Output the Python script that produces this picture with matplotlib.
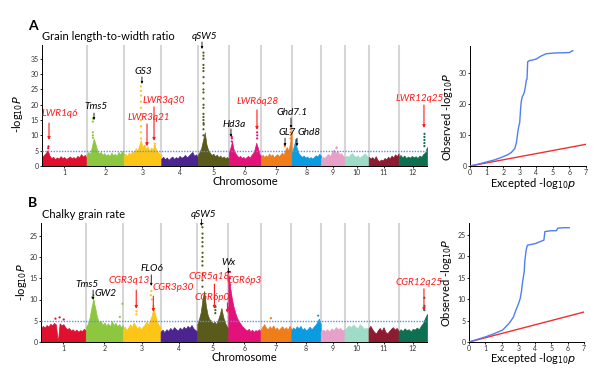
import matplotlib
matplotlib.use("Agg")
import matplotlib.pyplot as plt
import numpy as np

plt.rcParams['font.family'] = ['Lato', 'DejaVu Sans']

# ---------------- data ----------------
chrom_names = ["1", "2", "3", "4", "5", "6", "7", "8", "9", "10", "11", "12"]
chrom_len = [43.27, 35.94, 36.41, 35.50, 29.96, 31.25, 29.70, 28.44, 23.01, 23.21, 29.02, 27.53]
chrom_colors = ["#e0102f", "#8dc63f", "#fdc617", "#4b2490", "#5a5a1a", "#e2127a",
                "#ef7d1a", "#0a9be0", "#e7a0c8", "#9fdcc8", "#8e1b30", "#0e7050"]

# Panel A: grain length-to-width ratio, upper envelope of -log10P along each chromosome
envA = [
    [2.8, 3.6, 4.2, 5.2, 3.4, 2.6, 3.0, 2.2, 2.8, 2.4, 3.2, 2.6, 2.9, 2.3, 2.7, 3.1, 2.5, 2.9, 2.4, 3.3, 2.8, 3.9, 3.1, 3.6, 2.7],
    [3.8, 4.6, 3.9, 6.5, 9.0, 7.2, 5.0, 4.1, 4.6, 3.6, 4.2, 3.4, 3.9, 3.2, 4.4, 3.5, 4.0, 3.3, 4.6, 3.8, 4.9, 4.0],
    [3.4, 4.0, 3.3, 4.4, 3.8, 4.9, 4.2, 5.8, 5.0, 6.6, 8.5, 6.2, 7.0, 5.6, 6.4, 5.0, 6.0, 5.4, 7.1, 5.2, 4.6, 4.0, 3.6],
    [2.4, 3.0, 2.2, 2.8, 2.0, 2.6, 3.1, 2.3, 2.9, 2.5, 3.3, 2.7, 3.0, 3.6, 2.8, 3.4, 4.0, 4.6, 3.3, 3.8, 2.9],
    [3.8, 4.6, 6.0, 8.5, 11.0, 7.0, 5.2, 4.3, 3.6, 4.0, 3.2, 3.7, 2.9, 3.4, 2.7, 3.1, 2.6, 2.9, 2.5],
    [4.2, 6.0, 8.0, 5.4, 4.2, 3.5, 2.9, 3.3, 2.6, 3.0, 2.4, 2.9, 3.3, 2.7, 3.6, 4.2, 5.4, 7.6, 6.0, 4.0, 3.2],
    [3.0, 3.7, 2.9, 3.5, 3.0, 4.1, 3.3, 3.8, 2.9, 3.4, 3.9, 3.2, 3.7, 4.4, 3.6, 5.2, 6.2, 5.0, 7.5, 11.5],
    [4.0, 6.0, 8.2, 5.8, 4.2, 3.5, 3.0, 3.4, 2.7, 3.1, 2.5, 2.9, 2.4, 3.0, 3.5, 3.1, 4.0, 3.3],
    [2.4, 3.0, 2.6, 3.4, 3.9, 3.2, 4.6, 5.4, 4.2, 5.0, 3.8, 4.2, 3.3, 2.9],
    [2.8, 3.4, 3.0, 3.8, 4.2, 3.4, 3.0, 3.5, 2.7, 3.2, 3.7, 4.1, 3.3, 2.9],
    [3.0, 2.4, 2.9, 2.2, 3.2, 2.0, 1.6, 2.1, 1.8, 2.6, 2.2, 3.0, 2.5, 3.4, 2.8, 3.8, 3.2, 4.1],
    [3.0, 3.6, 2.8, 3.4, 2.6, 3.1, 2.7, 3.3, 2.8, 3.2, 2.6, 3.4, 3.0, 3.9, 4.4, 6.2],
]
peakA_chr = [1, 1, 2, 2, 2, 2, 2,
             3, 3, 3, 3, 3, 3, 3, 3, 3, 3, 3, 3, 3, 3,
             5, 5, 5, 5, 5, 5, 5, 5, 5, 5, 5, 5, 5, 5, 5, 5, 5, 5, 5, 5,
             6, 6, 6, 6, 6, 6, 7, 7, 7, 7, 7, 7, 8, 8, 8, 9, 9,
             12, 12, 12, 12, 12]
peakA_pos = [6.0, 6.3, 6.0, 6.0, 6.0, 6.0, 6.1,
             16.7, 16.7, 16.7, 16.7, 16.8, 16.7, 16.7, 16.8, 16.7, 16.7, 22.0, 22.1, 30.0, 30.1,
             5.4, 5.4, 5.5, 5.4, 5.4, 5.4, 5.5, 5.4, 5.4, 5.4, 5.4, 5.5, 5.4, 5.4, 5.4, 5.4, 5.4, 5.4, 5.6, 5.4,
             2.9, 3.0, 2.9, 27.5, 27.6, 27.5, 23.0, 23.1, 28.7, 28.8, 28.7, 28.8, 4.3, 4.3, 4.4, 15.0, 15.2,
             25.0, 25.0, 25.0, 25.0, 25.1]
peakA_val = [5.8, 6.4, 10.0, 11.0, 14.5, 15.5, 9.2,
             9.0, 11.0, 13.0, 15.0, 17.0, 19.0, 21.0, 23.0, 24.5, 26.0, 7.0, 7.5, 6.6, 7.3,
             10.0, 12.0, 14.0, 15.0, 17.0, 19.0, 20.0, 22.0, 24.0, 25.0, 27.0, 29.0, 31.0, 32.0, 33.0, 35.0, 36.0, 37.0, 13.5, 16.0,
             8.0, 9.0, 9.5, 9.0, 10.0, 11.0, 6.5, 7.0, 9.0, 10.0, 11.0, 12.0, 7.0, 8.0, 8.5, 5.8, 6.1,
             6.5, 7.5, 8.5, 9.5, 10.5]

# Panel B: chalky grain rate
envB = [
    [3.2, 3.8, 3.4, 4.0, 3.6, 4.3, 3.9, 4.5, 4.1, 0.0, 4.4, 3.9, 4.2, 3.5, 3.0, 3.3, 2.7, 3.0, 2.5, 2.9, 2.4, 2.8, 2.6, 3.1, 2.7],
    [3.4, 4.2, 5.6, 8.0, 10.0, 8.2, 6.0, 4.6, 5.0, 4.0, 4.6, 3.8, 4.4, 3.6, 4.9, 4.0, 4.5, 3.7, 4.2, 3.5, 4.0],
    [3.0, 3.6, 2.8, 3.4, 4.2, 3.5, 4.6, 3.9, 3.2, 3.7, 3.0, 3.6, 4.0, 4.8, 4.2, 5.0, 6.2, 8.0, 6.4, 4.8, 4.0, 3.4],
    [2.4, 2.9, 2.3, 3.0, 2.6, 3.3, 2.8, 3.5, 3.0, 2.7, 3.4, 2.9, 3.6, 3.1, 3.8, 3.3, 4.0, 3.2, 2.8, 2.5],
    [4.2, 5.4, 7.0, 10.0, 12.0, 8.5, 6.4, 5.4, 5.0, 4.4, 4.8, 4.2, 5.2, 6.4, 8.0, 6.0, 4.6, 3.8, 3.2],
    [16.0, 13.0, 10.5, 8.5, 7.0, 5.8, 5.0, 4.4, 3.8, 3.4, 3.0, 2.7, 3.1, 2.5, 2.9, 2.4, 2.8, 2.6, 3.0, 2.5],
    [2.8, 3.6, 4.2, 3.4, 3.0, 3.7, 3.2, 3.9, 3.0, 3.4, 2.8, 3.3, 3.7, 3.0, 3.5, 2.9, 3.8, 3.2],
    [2.8, 3.4, 3.0, 3.7, 3.2, 3.8, 2.9, 3.3, 2.7, 3.1, 3.6, 3.0, 3.5, 4.0, 4.6, 5.5, 4.2],
    [2.4, 2.9, 2.6, 3.0, 2.5, 3.2, 2.8, 3.5, 3.0, 3.3, 2.7, 3.0],
    [2.8, 3.4, 3.9, 3.5, 4.1, 3.6, 3.2, 4.2, 3.7, 3.1, 3.4, 2.8],
    [3.2, 3.8, 3.0, 2.4, 2.0, 2.8, 3.3, 2.6, 3.5, 2.4, 2.0, 2.6, 3.1, 3.5, 2.9, 3.3, 2.7],
    [2.4, 3.0, 2.6, 3.2, 2.8, 3.0, 2.5, 3.1, 2.9, 3.4, 3.0, 3.8, 4.4, 5.6, 6.6],
]
peakB_chr = [1, 1, 1, 2, 2, 2, 2, 2,
             3, 3, 3, 3, 3, 3,
             5, 5, 5, 5, 5, 5, 5, 5, 5, 5, 5, 5, 5, 5, 5, 5,
             6, 6, 6, 6, 6, 6, 7, 8, 12, 12, 12]
peakB_pos = [14.0, 18.0, 22.0, 6.0, 7.5, 8.1, 33.0, 35.5,
             13.0, 13.2, 27.0, 27.5, 28.0, 29.5,
             5.0, 5.0, 5.1, 5.0, 5.0, 5.0, 5.1, 5.0, 5.0, 5.0, 5.1, 5.0, 17.5, 17.6, 17.4, 5.2,
             0.5, 1.7, 1.7, 1.8, 1.9, 2.0, 10.0, 26.0, 25.0, 25.1, 25.0]
peakB_val = [5.5, 5.8, 5.3, 10.5, 11.0, 9.5, 5.9, 9.0,
             6.5, 7.2, 11.0, 12.0, 10.0, 8.5,
             13.0, 14.5, 16.0, 18.0, 19.0, 20.0, 21.0, 22.5, 23.5, 24.5, 25.5, 27.0, 7.5, 8.3, 6.8, 28.0,
             8.0, 16.5, 15.0, 13.5, 12.0, 11.0, 5.6, 6.2, 7.5, 8.5, 10.4]

threshold = 5.0

# QQ plots
qqA_exp = [0, 0.5, 1.0, 1.5, 2.0, 2.3, 2.5, 2.6, 2.7, 2.8, 2.85, 2.9, 2.95, 3.0, 3.06, 3.1, 3.16, 3.22, 3.28, 3.34, 3.4, 3.44,
           3.48, 3.6, 3.8, 4.0, 4.3, 4.6, 5.0, 5.3, 5.6, 6.0, 6.2]
qqA_obs = [0, 0.6, 1.3, 2.0, 3.0, 3.7, 4.4, 5.0, 5.6, 7.5, 9.5, 11.5, 13.0, 14.0, 19.0, 21.0, 22.4, 23.0, 23.8, 25.5, 27.7, 28.0,
           33.6, 34.0, 34.2, 34.5, 35.5, 36.2, 36.4, 36.5, 36.5, 36.6, 37.2]
qqB_exp = [0, 0.5, 1.04, 1.5, 2.05, 2.45, 2.7, 2.86, 3.0, 3.12, 3.2, 3.26, 3.36, 3.4, 3.48, 3.55, 3.8, 4.05, 4.3, 4.56,
           4.62, 5.0, 5.32, 5.4, 5.8, 6.1]
qqB_obs = [0, 0.6, 1.25, 1.9, 2.8, 4.4, 5.8, 7.5, 8.8, 10.2, 12.0, 14.0, 16.4, 19.0, 21.5, 22.6, 22.8, 23.0, 23.4, 23.8,
           25.8, 26.0, 26.0, 26.6, 26.7, 26.7]

# ---------------- figure ----------------
fig = plt.figure(figsize=(6.0, 3.82), dpi=100)

W, H = 600.0, 382.0
def box(x0, y0, x1, y1):
    return [x0 / W, 1 - y1 / H, (x1 - x0) / W, (y1 - y0) / H]

offsets = np.concatenate([[0], np.cumsum(chrom_len)[:-1]])
total = float(np.sum(chrom_len))
centers = offsets + np.array(chrom_len) / 2.0


def style_axes(ax):
    ax.tick_params(length=1.5, width=0.6, pad=0.8)
    for s in ["top", "right"]:
        ax.spines[s].set_visible(False)
    for s in ["left", "bottom"]:
        ax.spines[s].set_linewidth(0.7)


def manhattan(ax, env, pchr, ppos, pval, ymax, yticks, ylab_xy, xlab_xy):
    for i in range(1, 12):
        ax.axvline(offsets[i], color="#d6d6d6", lw=1.5, zorder=0)
    for i, vals in enumerate(env):
        n = len(vals)
        xs = offsets[i] + np.linspace(0.0, chrom_len[i], n)
        ax.fill_between(xs, 0, vals, color=chrom_colors[i], lw=0.5, edgecolor=chrom_colors[i], zorder=2)
    px = [offsets[c - 1] + p for c, p in zip(pchr, ppos)]
    pc = [chrom_colors[c - 1] for c in pchr]
    ax.scatter(px, pval, s=2.5, c=pc, lw=0, zorder=3)
    ax.axhline(threshold, color="#5b8ff0", lw=1.0, ls=(0, (1, 1)), zorder=4)
    ax.set_xlim(0, total)
    ax.set_ylim(0, ymax)
    ax.set_xticks(centers)
    ax.set_xticklabels(chrom_names, fontsize=5, color="#333333")
    ax.set_yticks(yticks)
    ax.set_yticklabels([str(t) for t in yticks], fontsize=5, color="#333333")
    style_axes(ax)
    ax.set_xlabel("Chromosome", fontsize=8)
    ax.set_ylabel(r"-log$_{10}$$\it{P}$", fontsize=8)
    ax.xaxis.set_label_coords(*xlab_xy)
    ax.yaxis.set_label_coords(*ylab_xy)


def qq(ax, ex, ob, ymax, yticks, ylab_xy, xlab_xy):
    ax.plot([0, 7], [0, 7], color="#f03030", lw=1.0, zorder=2)
    ax.plot(ex, ob, color="#4f7ff0", lw=1.0, zorder=3)
    ax.set_xlim(0, 7)
    ax.set_ylim(0, ymax)
    ax.set_xticks(range(8))
    ax.set_xticklabels([str(i) for i in range(8)], fontsize=5, color="#333333")
    ax.set_yticks(yticks)
    ax.set_yticklabels([str(t) for t in yticks], fontsize=5, color="#333333")
    style_axes(ax)
    ax.set_xlabel(r"Excepted -log$_{10}$$\it{p}$", fontsize=8)
    ax.set_ylabel(r"Observed -log$_{10}$$\it{P}$", fontsize=8)
    ax.xaxis.set_label_coords(*xlab_xy)
    ax.yaxis.set_label_coords(*ylab_xy)


def annotate(ax, items):
    for lab, col, tx, ty, ax_x, y0, y1 in items:
        ax.text(tx, ty, lab, color=col, fontsize=7.2, style="italic", ha="center", va="center",
                zorder=6, clip_on=False)
        if ax_x is not None:
            ax.annotate("", xy=(ax_x, y1), xytext=(ax_x, y0),
                        arrowprops=dict(arrowstyle="-|>", color=col, lw=0.8 if col != "black" else 0.6,
                                        mutation_scale=4 if col != "black" else 3,
                                        shrinkA=0, shrinkB=0),
                        annotation_clip=False, zorder=6)


RED = "#ff1a1a"
# ---- Panel A ----
axA = fig.add_axes(box(42, 45, 427, 166))
manhattan(axA, envA, peakA_chr, peakA_pos, peakA_val, 39.5, [0, 5, 10, 15, 20, 25, 30, 35],
          (-0.045, 0.43), (0.527, -0.08))
annotate(axA, [
    ("LWR1q6", RED, 17.5, 17.0, 6.8, 14.0, 8.5),
    ("Tms5", "black", 52.4, 19.3, 50.4, 17.3, 15.0),
    ("GS3", "black", 98.4, 31.0, 96.9, 29.1, 26.8),
    ("LWR3q21", RED, 103.7, 15.7, 101.8, 13.7, 6.5),
    ("LWR3q30", RED, 118.3, 21.5, 108.6, 19.3, 8.2),
    ("qSW5", "black", 157.5, 42.4, 155.1, 40.5, 38.2),
    ("Hd3a", "black", 186.1, 13.7, 183.2, 12.1, 9.5),
    ("LWR6q28", RED, 209.4, 20.9, 208.4, 18.3, 11.8),
    ("Ghd7.1", "black", 242.4, 17.6, 241.4, 15.7, 12.4),
    ("GL7", "black", 238.0, 10.8, 235.6, 9.1, 6.5),
    ("Ghd8", "black", 258.5, 10.8, 247.2, 9.1, 6.5),
    ("LWR12q25", RED, 366.0, 21.9, 370.3, 19.9, 12.4),
])
qA = fig.add_axes(box(470, 46, 586, 166))
qq(qA, qqA_exp, qqA_obs, 38.7, [0, 10, 20, 30], (-0.13, 0.41), (0.54, -0.085))

fig.text(28 / W, 1 - 26 / H, "A", fontsize=10, fontweight="bold", va="center")
fig.text(42 / W, 1 - 37 / H, "Grain length-to-width ratio", fontsize=8, va="center")

# ---- Panel B ----
axB = fig.add_axes(box(41, 223, 427, 342))
manhattan(axB, envB, peakB_chr, peakB_pos, peakB_val, 28, [0, 5, 10, 15, 20, 25],
          (-0.03, 0.5), (0.527, -0.08))
annotate(axB, [
    ("Tms5", "black", 44.6, 13.6, 50.4, 12.2, 9.9),
    ("GW2", "black", 62.0, 11.5, None, 0, 0),
    ("CGR3q13", RED, 84.8, 14.4, 92.1, 12.2, 7.8),
    ("FLO6", "black", 107.1, 17.2, 106.6, 15.8, 13.2),
    ("CGR3p30", RED, 127.5, 12.9, 108.6, 10.8, 7.1),
    ("qSW5", "black", 157.5, 30.1, 155.1, 28.9, 27.3),
    ("Wx", "black", 180.8, 18.8, 181.3, 17.4, 16.0),
    ("CGR5q18", RED, 162.9, 15.3, 167.7, 13.6, 7.8),
    ("CGR6p0", RED, 165.8, 10.4, 180.3, 9.2, 6.8),
    ("CGR6p3", RED, 196.3, 14.4, None, 0, 0),
    ("CGR12q25", RED, 365.5, 14.1, 370.3, 12.5, 7.3),
])
qB = fig.add_axes(box(469, 223, 584, 342))
qq(qB, qqB_exp, qqB_obs, 27.8, [0, 5, 10, 15, 20, 25], (-0.13, 0.5), (0.557, -0.075))

fig.text(28 / W, 1 - 203 / H, "B", fontsize=10, fontweight="bold", va="center")
fig.text(42 / W, 1 - 214 / H, "Chalky grain rate", fontsize=8, va="center")

fig.savefig("out.png", dpi=100)
